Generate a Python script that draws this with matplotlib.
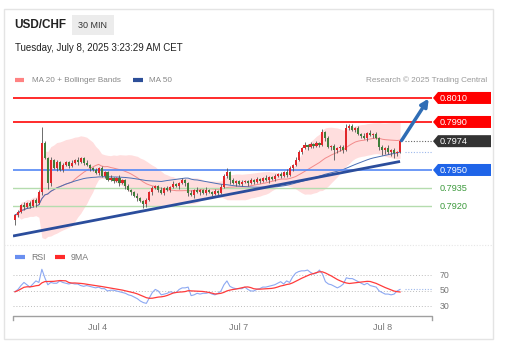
import numpy as np
import pandas as pd
import matplotlib
matplotlib.use("Agg")
import matplotlib.pyplot as plt
from matplotlib.patches import Rectangle, Polygon

plt.rcParams['font.family'] = ['Liberation Sans', 'DejaVu Sans']

# ---------------- data ----------------
first_open = 0.79080
closes = [
    0.79125, 0.79150, 0.79210, 0.79190, 0.79225, 0.79200, 0.79250, 0.79225, 0.79315, 0.79725,
    0.79600, 0.79390, 0.79585, 0.79515, 0.79565, 0.79500, 0.79540, 0.79565, 0.79535, 0.79560,
    0.79585, 0.79565, 0.79600, 0.79560, 0.79540, 0.79515, 0.79500, 0.79475, 0.79515, 0.79450,
    0.79485, 0.79415, 0.79435, 0.79410, 0.79435, 0.79390, 0.79415, 0.79365, 0.79335, 0.79315,
    0.79285, 0.79265, 0.79240, 0.79215, 0.79250, 0.79315, 0.79350, 0.79365, 0.79335, 0.79310,
    0.79350, 0.79335, 0.79360, 0.79385, 0.79365, 0.79390, 0.79415, 0.79390, 0.79310, 0.79290,
    0.79335, 0.79315, 0.79335, 0.79310, 0.79335, 0.79315, 0.79300, 0.79325, 0.79310, 0.79360,
    0.79450, 0.79485, 0.79415, 0.79390, 0.79410, 0.79385, 0.79400, 0.79410, 0.79390, 0.79415,
    0.79400, 0.79425, 0.79410, 0.79435, 0.79415, 0.79440, 0.79425, 0.79450, 0.79465, 0.79450,
    0.79485, 0.79460, 0.79515, 0.79540, 0.79585, 0.79650, 0.79685, 0.79710, 0.79690, 0.79715,
    0.79700, 0.79725, 0.79710, 0.79815, 0.79765, 0.79690, 0.79700, 0.79665, 0.79685, 0.79690,
    0.79665, 0.79850, 0.79865, 0.79835, 0.79850, 0.79800, 0.79785, 0.79765, 0.79810, 0.79790,
    0.79800, 0.79765, 0.79690, 0.79665, 0.79685, 0.79650, 0.79665, 0.79640, 0.79650, 0.79740,
]
upper_wick_pips = [
    1, 2, 1, 2, 1, 2, 1, 2, 2, 13,
    2, 1, 2, 1, 2, 1, 2, 1, 1, 2,
    1, 2, 1, 1, 2, 1, 1, 2, 1, 2,
    1, 1, 2, 1, 1, 2, 1, 1, 2, 1,
    1, 2, 1, 1, 2, 1, 2, 1, 1, 2,
    1, 2, 1, 2, 1, 1, 2, 1, 1, 2,
    1, 2, 1, 1, 2, 1, 1, 2, 1, 2,
    2, 3, 1, 2, 1, 1, 2, 1, 1, 2,
    1, 2, 1, 1, 2, 1, 1, 2, 1, 2,
    1, 2, 2, 1, 2, 2, 1, 2, 1, 2,
    1, 2, 1, 3, 1, 2, 1, 2, 1, 2,
    2, 3, 2, 2, 1, 2, 1, 2, 1, 2,
    1, 2, 1, 2, 1, 2, 1, 2, 1, 1,
]
lower_wick_pips = [
    4, 2, 1, 2, 1, 2, 1, 3, 1, 2,
    1, 5, 2, 1, 2, 1, 2, 1, 2, 1,
    1, 2, 1, 2, 1, 2, 1, 1, 2, 1,
    2, 1, 1, 2, 1, 2, 1, 2, 1, 2,
    1, 2, 1, 3, 2, 1, 2, 1, 2, 1,
    2, 1, 2, 1, 1, 2, 1, 2, 3, 1,
    2, 1, 2, 1, 2, 1, 2, 1, 2, 1,
    1, 2, 3, 1, 2, 1, 2, 1, 2, 1,
    2, 1, 2, 1, 1, 2, 1, 2, 1, 2,
    1, 2, 1, 2, 1, 1, 2, 1, 2, 1,
    2, 1, 2, 1, 2, 1, 2, 8, 2, 3,
    2, 1, 2, 1, 2, 1, 2, 1, 2, 1,
    2, 1, 2, 4, 3, 2, 3, 4, 2, 1,
]
rsi_values = [
    49, 52, 57, 61, 58, 55, 59, 63, 61, 78,
    67, 58, 61, 60, 60, 63, 61, 60, 59, 60,
    59, 59, 57, 56, 57, 56, 55, 54, 55, 53,
    53, 50, 51, 51, 50, 49, 48, 47, 45, 44,
    42, 40, 37, 35, 34, 41, 48, 52, 50, 45,
    46, 47, 49, 48, 48, 52, 54, 54, 55, 44,
    45, 47, 46, 47, 47, 48, 46, 45, 47, 50,
    58, 63, 56, 54, 53, 53, 53, 55, 52, 50,
    50, 52, 53, 55, 55, 56, 57, 58, 60, 62,
    59, 63, 61, 68, 73, 75, 76, 76, 77, 74,
    72, 73, 77, 72, 62, 59, 58, 56, 54, 56,
    59, 67, 66, 66, 64, 62, 60, 58, 60, 57,
    56, 55, 50, 48, 46, 46, 45, 46, 50, 52,
]
resistance_levels = [0.8010, 0.7990]
last_level = 0.7974
support_level = 0.7950
minor_levels = [0.7935, 0.7920]
trend_x = [-0.67, 129]
trend_y = [0.78950, 0.79571]
arrow_start = (129.5, 0.79745)
arrow_end = (138.6, 0.80095)
date_ticks = [27.8, 75.0, 123.3]
date_labels = ["Jul 4", "Jul 7", "Jul 8"]
rsi_levels = [70, 50, 30]

# ---------------- derived ----------------
closes = np.array(closes)
opens = np.concatenate([[first_open], closes[:-1]])
highs = np.maximum(opens, closes) + np.array(upper_wick_pips) * 1e-4
lows = np.minimum(opens, closes) - np.array(lower_wick_pips) * 1e-4
n = len(closes)
xs = np.arange(n)
s = pd.Series(closes)
ma20 = s.rolling(20, min_periods=1).mean()
sd20 = s.rolling(20, min_periods=1).std(ddof=0).fillna(0)
bb_up = ma20 + 2 * sd20
bb_lo = ma20 - 2 * sd20
ma50 = s.rolling(50, min_periods=1).mean()
rsi = pd.Series(rsi_values, dtype=float)
rsi_ma = rsi.rolling(9, min_periods=1).mean()

# ---------------- figure ----------------
W, H = 509, 354
fig = plt.figure(figsize=(W / 100, H / 100), dpi=100)
fig.patch.set_facecolor("white")


def rect(x0, y0, x1, y1):
    return [x0 / W, 1 - y1 / H, (x1 - x0) / W, (y1 - y0) / H]


ov = fig.add_axes([0, 0, 1, 1], zorder=0)
ov.set_xlim(0, W)
ov.set_ylim(H, 0)
ov.axis("off")

XL = (-0.67, 139.7)
MY0, MY1 = 88, 242
YL = (0.7890, 0.80183)
ax = fig.add_axes(rect(13, MY0, 432, MY1), zorder=2)
ax.set_xlim(*XL)
ax.set_ylim(*YL)
ax.axis("off")


def py(p):
    return MY0 + (YL[1] - p) / (YL[1] - YL[0]) * (MY1 - MY0)


# card
ov.add_patch(Rectangle((4, 9), 489, 330, fill=False, ec="#e4e4e4", lw=1))
ov.plot([4, 493], [245, 245], color="#e6e6e6", lw=0.8, ls=(0, (1, 1.5)))

# header
ov.text(14, 25, "USD/CHF", fontsize=8.5, fontweight="bold", color="#222", va="center")
ov.add_patch(Rectangle((72, 15), 42, 20, fc="#ececec", ec="none"))
ov.text(93, 25, "30 MIN", fontsize=6.5, color="#333", va="center", ha="center")
ov.text(15, 48, "Tuesday, July 8, 2025 3:23:29 AM CET", fontsize=7, color="#222", va="center")
ov.plot([15, 24], [80, 80], color="#ff8282", lw=3, solid_capstyle="butt")
ov.text(32, 80, "MA 20 + Bollinger Bands", fontsize=5.9, color="#888", va="center")
ov.plot([133, 143], [80, 80], color="#2d4f99", lw=3, solid_capstyle="butt")
ov.text(149, 80, "MA 50", fontsize=5.9, color="#888", va="center")
ov.text(487, 80, "Research \u00a9 2025 Trading Central", fontsize=5.9, color="#999",
        va="center", ha="right")

# main chart
ax.fill_between(xs, bb_lo, bb_up, color="#ffdede", lw=0, zorder=1)
ax.plot(xs, ma20, color="#f28a8a", lw=0.7, zorder=2)
ax.plot(xs, ma50, color="#4a6fb5", lw=0.7, zorder=2)

for lv in resistance_levels:
    ax.axhline(lv, color="#ff1a1a", lw=1.3, zorder=2)
ax.axhline(support_level, color="#5488f5", lw=1.2, zorder=2)
for lv in minor_levels:
    ax.axhline(lv, color="#b5dcae", lw=1.0, zorder=2)

up = closes >= opens
ax.vlines(xs, lows, highs, color="#555", lw=0.6, zorder=3)
body_lo = np.minimum(opens, closes)
body_h = np.maximum(np.abs(closes - opens), 0.00004)
ax.bar(xs[up], body_h[up], bottom=body_lo[up], width=0.7, color="#e0262a", lw=0, zorder=4)
ax.bar(xs[~up], body_h[~up], bottom=body_lo[~up], width=0.7, color="#3f7f3a", lw=0, zorder=4)

ax.plot(trend_x, trend_y, color="#2b4d9c", lw=2, zorder=5, solid_capstyle="butt")

ax.plot([n + 0.5, XL[1]], [closes[-1], closes[-1]], color="#666", lw=0.8,
        ls=(0, (1, 1.5)), zorder=2)
ax.plot([n + 0.5, XL[1]], [ma50.iloc[-1], ma50.iloc[-1]], color="#9db8ec", lw=0.8,
        ls=(0, (1, 1.5)), zorder=2)

ax.annotate("", xy=arrow_end, xytext=arrow_start,
            arrowprops=dict(arrowstyle="-|>", color="#2f6db5", lw=2.5,
                            mutation_scale=11, shrinkA=0, shrinkB=0),
            zorder=6, annotation_clip=False)


# right labels
def box_label(price, text, color):
    y = py(price)
    poly = Polygon([[433, y], [438, y - 6], [491, y - 6], [491, y + 6], [438, y + 6]],
                   closed=True, fc=color, ec="none")
    ov.add_patch(poly)
    ov.text(440, y + 0.3, text, fontsize=6.6, color="white", va="center", ha="left")


for lv in resistance_levels:
    box_label(lv, f"{lv:.4f}", "#ff0000")
box_label(last_level, f"{last_level:.4f}", "#333333")
box_label(support_level, f"{support_level:.4f}", "#1f64e8")
for lv in minor_levels:
    ov.text(440, py(lv) + 0.3, f"{lv:.4f}", fontsize=6.6, color="#3d9a3d", va="center")

# RSI panel
RY0, RY1 = 262, 316
RL = (17.7, 87.4)
ax2 = fig.add_axes(rect(13, RY0, 432, RY1), zorder=2)
ax2.set_xlim(*XL)
ax2.set_ylim(*RL)
ax2.axis("off")


def ry(v):
    return RY0 + (RL[1] - v) / (RL[1] - RL[0]) * (RY1 - RY0)


for lv in rsi_levels:
    ax2.plot([XL[0], XL[1] - 0.3], [lv, lv], color="#bdbdbd", lw=0.7, ls=(0, (1, 2)))
    ov.text(440, ry(lv), str(lv), fontsize=6.3, color="#777", va="center")
ax2.plot(xs, rsi, color="#8ca8f2", lw=0.8, zorder=3)
ax2.plot(xs, rsi_ma, color="#ff3b3b", lw=0.9, zorder=4)
ax2.plot([n + 0.5, XL[1]], [rsi.iloc[-1], rsi.iloc[-1]], color="#9db8ec", lw=0.8,
         ls=(0, (1, 1.5)), zorder=2)

ov.plot([15, 25], [257, 257], color="#6a8ff0", lw=3, solid_capstyle="butt")
ov.text(31, 257, "RSI", fontsize=6.3, color="#777", va="center")
ov.plot([55, 65], [257, 257], color="#ff2a2a", lw=3, solid_capstyle="butt")
ov.text(71, 257, "9MA", fontsize=6.3, color="#777", va="center")

# time axis
ov.plot([13, 13, 432, 432], [320, 316, 316, 320], color="#a0a0a0", lw=1)
for t, lab in zip(date_ticks, date_labels):
    xp = 13 + (t - XL[0]) / (XL[1] - XL[0]) * (432 - 13)
    ov.text(xp, 327, lab, fontsize=6.5, color="#777", va="center", ha="center")

fig.savefig("out.png", dpi=100)
